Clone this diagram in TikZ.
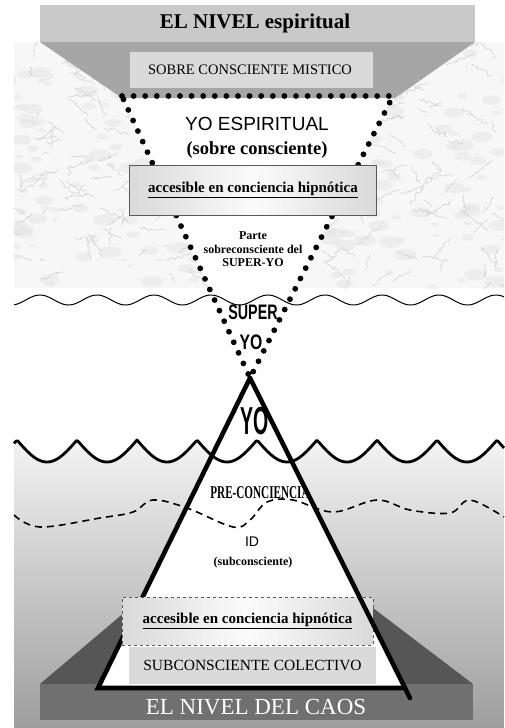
\documentclass[tikz,border=0pt]{standalone}
\usepackage{fontspec}
\setmainfont{Liberation Serif}
\setsansfont{Liberation Sans}
\usepackage{graphicx}
\usetikzlibrary{decorations.pathmorphing}
\definecolor{bandhi}{RGB}{201,201,201}
\definecolor{trapzhi}{RGB}{166,166,166}
\definecolor{boxlight}{RGB}{218,218,218}
\definecolor{bandlow}{RGB}{112,112,112}
\definecolor{trapzlow}{RGB}{86,86,86}
\definecolor{shtop}{RGB}{243,243,243}
\definecolor{shbot}{RGB}{158,158,158}
\definecolor{marblebg}{RGB}{247,247,247}
% horizontal grey-white-grey band: x1, y1, x2, y2
\newcommand{\accgrad}[4]{%
  \foreach \k in {0,...,49}{
    \pgfmathtruncatemacro{\graypct}{4+26*abs(2*(\k+0.5)/50-1)}
    \pgfmathsetmacro{\stripa}{#1+(#3-#1)*\k/50}
    \pgfmathsetmacro{\stripb}{#1+(#3-#1)*(\k+1)/50+0.4}
    \fill[gray!\graypct] (\stripa,#2) rectangle (\stripb,#4);
  }}
\tikzset{
  fsz/.style={font=\fontsize{#1}{#1}\selectfont},
  lbl/.style={inner sep=0pt, align=center},
  accbox/.style={draw=gray!70!black, line width=0.6pt, inner sep=0pt},
  dotline/.style={line width=5.8pt, line cap=round, dash pattern=on 0pt off 11.6pt},
  tri/.style={line width=4.6pt, line cap=round},
  thinwave/.style={line width=1pt},
  thickwave/.style={line width=2.8pt, line join=round},
  dashwave/.style={line width=1.6pt, dash pattern=on 7pt off 5pt},
  vein/.style={gray!40, line width=0.7pt, opacity=0.75, decorate,
               decoration={random steps, segment length=2.5pt, amplitude=1.8pt}},
  blotch/.style={gray!22, opacity=0.45},
}

\begin{document}
\begin{tikzpicture}[x=1pt, y=-1pt]
  \useasboundingbox (0,0) rectangle (504,728);
  % marble texture
  \begin{scope}
    \clip (14,42) rectangle (504,288);
    \fill[marblebg] (14,42) rectangle (504,288);
    \pgfmathsetseed{11}
    \foreach \i in {1,...,260}{
      \pgfmathsetmacro{\bx}{14+490*rnd}
      \pgfmathsetmacro{\by}{42+246*rnd}
      \pgfmathsetmacro{\br}{3+9*rnd}
      \fill[blotch] (\bx,\by) ellipse [x radius=\br, y radius=0.5*\br];
    }
    \foreach \i in {1,...,260}{
      \draw[vein] ({14+490*rnd},{42+246*rnd}) -- ++({30*rand},{20*rand});
    }
  \end{scope}
  \coordinate (dl) at (122,96);
  \coordinate (dr) at (393,96);
  \coordinate (dapex) at (250,378);
  \fill[white] (dl) -- (dr) -- (dapex) -- cycle;
  \draw[thinwave] plot[domain=14:504, samples=260] (\x,{300-5*cos(6.3158*(\x-40))});
  % lower shading
  \shade[top color=shtop, bottom color=shbot] (14,728)
    -- plot[domain=14:504, samples=260] (\x,{440+22*abs(sin(3*(\x-17)))}) -- (504,728) -- cycle;
  % espiritual level
  \fill[bandhi] (40,5) rectangle (475,42);
  \fill[trapzhi] (40,42) -- (475,42) -- (395,98) -- (122,98) -- cycle;
  \fill[boxlight] (130,52) rectangle (373,88);
  % caos level
  \fill[trapzlow] (40,684) -- (125,612) -- (373,608) -- (473,684) -- cycle;
  \fill[bandlow] (40,684) rectangle (473,720);
  \coordinate (apex) at (250,378);
  \coordinate (lb) at (98,688);
  \coordinate (rb) at (410,698);
  \coordinate (bse) at (405,688);
  \fill[white] (apex) -- (lb) -- (bse) -- cycle;
  \draw[thickwave] plot[domain=14:504, samples=260] (\x,{440+22*abs(sin(3*(\x-17)))});
  \draw[dashwave] plot[smooth, tension=0.6] coordinates {(14,515) (40,527) (100,518) (133,512) (153,500)
    (187,508) (233,527) (250,520) (267,502) (293,500) (333,512) (377,500) (410,510) (450,513) (470,500) (504,517)};
  \draw[dotline] (dl) -- (dr) -- (dapex) -- cycle;
  \accgrad{129.5}{165}{376.5}{215}
  \node[accbox, minimum width=247pt, minimum height=50pt, fsz=15] (accup) at (253,190)
    {\raisebox{4pt}{\bfseries\underline{accesible en conciencia hipnótica}}};
  \draw[tri] (apex) -- (lb) -- (bse);
  \accgrad{122}{597}{373}{645}
  \node[accbox, dashed, minimum width=251pt, minimum height=48pt, fsz=15] (acclow) at (247.5,621)
    {\bfseries\underline{accesible en conciencia hipnótica}};
  \node[fill=boxlight, minimum width=247pt, minimum height=37pt, inner sep=0pt, fsz=15.5] (colect) at (252.5,665)
    {SUBCONSCIENTE COLECTIVO};
  \draw[tri] (apex) -- (rb);
  % labels
  \node[lbl, fsz=21] (tnivel) at (255,23) {\bfseries EL NIVEL espiritual};
  \node[lbl, fsz=14.5] (mistico) at (250,70) {SOBRE CONSCIENTE MISTICO};
  \node[lbl, fsz=19] (yoesp) at (257,124) {\sffamily YO ESPIRITUAL};
  \node[lbl, fsz=18.5] (sobre) at (257,150) {\bfseries (sobre consciente)};
  \node[lbl, fsz=12] (parte) at (253,249)
    {\bfseries Parte\\[2pt] \bfseries sobreconsciente del\\[1pt] \bfseries SUPER-YO};
  \node[lbl, fsz=21] (super) at (253,312) {\scalebox{0.68}[1]{\sffamily\bfseries SUPER}};
  \node[lbl, fsz=21] (syo) at (251,342) {\scalebox{0.75}[1]{\sffamily\bfseries YO}};
  \node[lbl, fsz=39] (yo) at (255,421) {\scalebox{0.5}[1]{\sffamily\bfseries YO}};
  \node[lbl, fsz=18] (precon) at (260,493) {\scalebox{0.62}[1]{\bfseries PRE-CONCIENCIA}};
  \node[lbl, fsz=14] (id) at (252,542) {\sffamily ID};
  \node[lbl, fsz=12] (subcon) at (253,563) {\bfseries (subconsciente)};
  \node[lbl, fsz=23, text=white] (caos) at (256,707) {EL NIVEL DEL CAOS};
\end{tikzpicture}
\end{document}
